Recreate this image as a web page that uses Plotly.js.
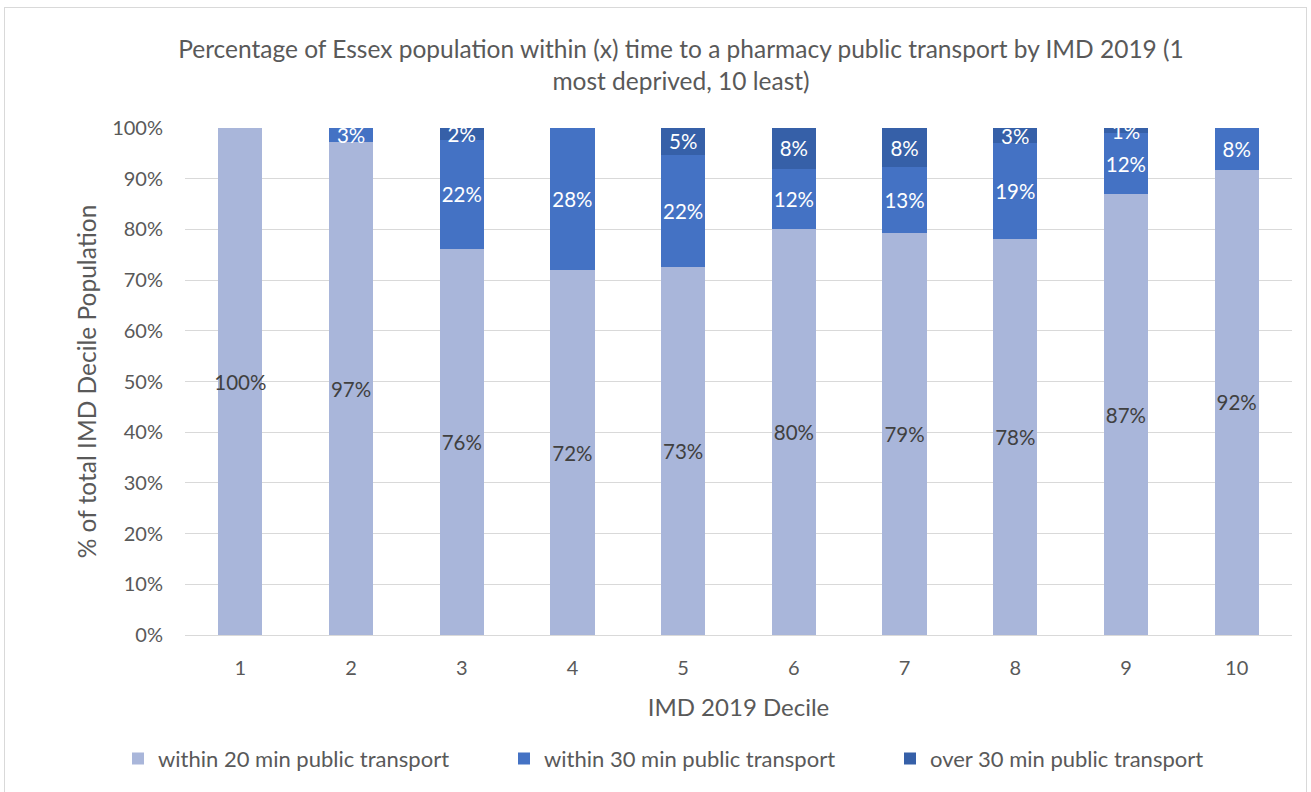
<!DOCTYPE html>
<html>
<head>
<meta charset="utf-8">
<script src="https://cdn.plot.ly/plotly-3.0.1.min.js"></script>
<style>
  body { margin: 0; background: #fff; }
  #chart { width: 1311px; height: 792px; }
  #frame { position: absolute; left: 4px; top: 7px; width: 1301px; height: 790px; border: 1px solid #d9d9d9; pointer-events: none; }
</style>
</head>
<body>
<div id="chart"></div>
<div id="frame"></div>
<script>
const deciles = ['1', '2', '3', '4', '5', '6', '7', '8', '9', '10'];
const within20 = [100, 97.2, 76.1, 71.9, 72.6, 80.1, 79.2, 78.2, 86.9, 91.8];
const within30 = [0, 2.8, 21.6, 28.1, 22.1, 11.9, 13.1, 18.8, 12.1, 8.2];
const over30 = [0, 0, 2.3, 0, 5.3, 8.0, 7.7, 3.0, 1.0, 0];
const seriesNames = ['within 20 min public transport', 'within 30 min public transport', 'over 30 min public transport'];
const colors = ['#A9B6DA', '#4472C4', '#3660A8'];
const textColors = ['#404040', '#ffffff', '#ffffff'];

const FONT = 'Lato, "Open Sans", sans-serif';
const labels = vals => vals.map(v => v > 0 ? Math.round(v) + '%' : '');

const traces = [within20, within30, over30].map((vals, i) => ({
  type: 'bar',
  name: seriesNames[i],
  x: deciles,
  y: vals,
  text: labels(vals),
  textposition: 'inside',
  insidetextanchor: 'middle',
  constraintext: 'none',
  textangle: 0,
  cliponaxis: false,
  textfont: { family: FONT, size: 20.5, color: textColors[i] },
  marker: { color: colors[i], line: { width: 0 } },
  hoverinfo: 'x+y+name'
}));

const layout = {
  barmode: 'stack',
  bargap: 0.6,
  width: 1311,
  height: 792,
  paper_bgcolor: '#ffffff',
  plot_bgcolor: '#ffffff',
  margin: { l: 185, r: 19, t: 128, b: 155 },
  font: { family: FONT, color: '#595959' },
  title: {
    text: 'Percentage of Essex population within (x) time to a pharmacy public transport by IMD 2019 (1<br>most deprived, 10 least)',
    font: { family: FONT, size: 24.5, color: '#595959' },
    xref: 'container', x: 681 / 1311, xanchor: 'center',
    yref: 'container', y: 1 - 58 / 792, yanchor: 'top'
  },
  xaxis: {
    type: 'category',
    showgrid: false,
    showline: true,
    linecolor: '#d9d9d9',
    linewidth: 1,
    ticks: '',
    ticklabelstandoff: 15,
    tickfont: { family: FONT, size: 20, color: '#595959' },
    title: { text: 'IMD 2019 Decile', font: { family: FONT, size: 24, color: '#595959' }, standoff: 21 },
    automargin: false
  },
  yaxis: {
    range: [0, 100],
    dtick: 10,
    ticksuffix: '%',
    showgrid: true,
    gridcolor: '#d9d9d9',
    gridwidth: 1,
    zeroline: false,
    ticks: '',
    ticklabelstandoff: 21,
    tickfont: { family: FONT, size: 20, color: '#595959' },
    title: { text: '% of total IMD Decile Population', font: { family: FONT, size: 24.5, color: '#595959' }, standoff: 8 },
    automargin: false
  },
  legend: {
    orientation: 'h',
    xanchor: 'left',
    x: (118 - 185) / 1107,
    y: -0.244, yanchor: 'middle',
    font: { family: FONT, size: 22, color: '#595959' },
    traceorder: 'normal',
    itemwidth: 30,
    entrywidth: 341,
    entrywidthmode: 'pixels'
  },
  showlegend: true
};

Plotly.newPlot('chart', traces, layout, { displayModeBar: false, staticPlot: true });
</script>
</body>
</html>
